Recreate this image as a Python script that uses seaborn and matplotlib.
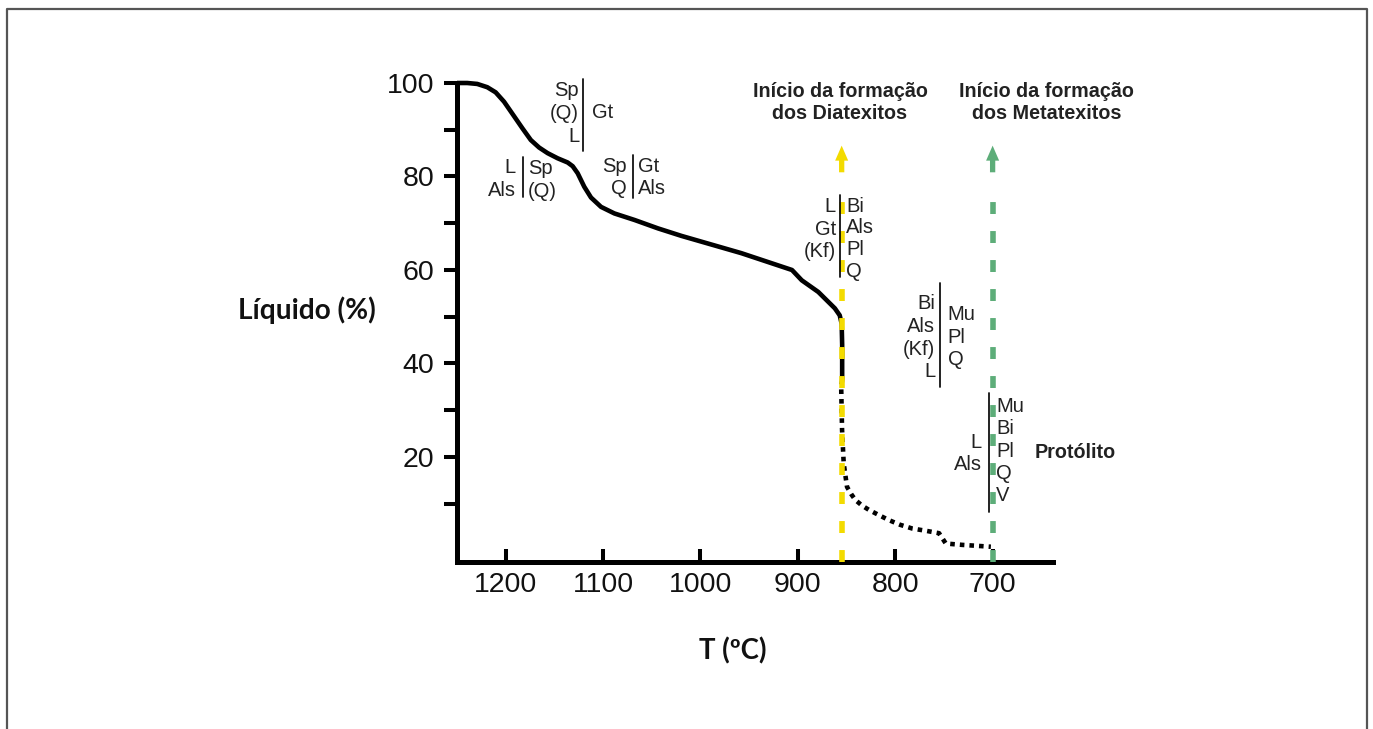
import matplotlib
matplotlib.use("Agg")
import matplotlib.pyplot as plt
import seaborn as sns
import numpy as np
import pandas as pd
from matplotlib.lines import Line2D

# ---------------- data ----------------
# solid part of the melting curve (T in ºC, liquid %)
T_solid = [1250, 1239.5, 1229.2, 1218.9, 1210.3, 1201.7, 1191.4, 1182.8, 1174.2,
           1165.7, 1157.0, 1146.7, 1136.4, 1131.2, 1126.1, 1119.3, 1112.4, 1102.1,
           1088.4, 1067.7, 1043.6, 1019.6, 958, 906, 896, 879, 862, 857, 855,
           854.5, 854.5]
L_solid = [100, 100, 99.8, 99.1, 98.0, 96.0, 92.9, 90.3, 87.8,
           86.2, 85.0, 83.9, 83.0, 82.2, 80.7, 77.8, 75.5, 73.5,
           72.1, 70.7, 68.9, 67.3, 63.6, 60.0, 57.8, 55.3, 51.8, 50.3, 48.5,
           44.0, 36.5]
# dotted (extrapolated) part
T_dot = [854.5, 855.5, 854.6, 852.9, 849.5, 845, 840.9, 834, 827.1, 817, 806.5,
         795, 782.5, 768, 755, 748.1, 740, 731, 716, 701.8]
L_dot = [36.5, 35.0, 25.8, 18.6, 13.6, 12.0, 10.8, 9.6, 8.7, 7.6, 6.5,
         5.5, 4.7, 4.2, 3.7, 1.5, 1.35, 1.2, 1.0, 0.8]

onset_diatexite_T = 855
onset_metatexite_T = 700
onset_line_top = 76.7
arrow_from, arrow_to = 80.9, 86.6

x_ticks = [1200, 1100, 1000, 900, 800, 700]
y_major = [20, 40, 60, 80, 100]
y_minor = [10, 30, 50, 70, 90]

YELLOW = "#F3DB00"
GREEN = "#5DAD79"

# ---------------- figure ----------------
sns.set_theme(style="white")
plt.rcParams["font.family"] = ["Liberation Sans", "DejaVu Sans"]

W, H = 1373, 729
fig = plt.figure(figsize=(W / 100, H / 100), dpi=100)
fig.patch.set_facecolor("white")
ax = fig.add_axes([457 / W, 1 - 562 / H, (1053 - 457) / W, (562 - 83) / H])
ax.set_facecolor("white")

df_solid = pd.DataFrame({"T": T_solid, "L": L_solid})
df_dot = pd.DataFrame({"T": T_dot, "L": L_dot})

sns.lineplot(data=df_solid, x="T", y="L", sort=False, estimator=None, ax=ax,
             color="black", lw=3.3, zorder=3, clip_on=False,
             solid_capstyle="butt", solid_joinstyle="round")
sns.lineplot(data=df_dot, x="T", y="L", sort=False, estimator=None, ax=ax,
             color="black", lw=3.3, zorder=3, clip_on=False,
             linestyle=(0, (1, 1.1)), dash_capstyle="butt")

ax.set_xlim(1250, 638)
ax.set_ylim(-2.46, 100)

# onset dashed lines + arrows
for xv, col in [(onset_diatexite_T, YELLOW), (onset_metatexite_T, GREEN)]:
    ax.plot([xv, xv], [ax.get_ylim()[0], onset_line_top], color=col, lw=4,
            linestyle=(0, (2.15, 3.07)), dash_capstyle="butt", zorder=4, clip_on=False)
    ax.annotate("", xy=(xv, arrow_to), xytext=(xv, arrow_from),
                arrowprops=dict(arrowstyle="simple,head_length=1.08,head_width=0.94,tail_width=0.38",
                                color=col, shrinkA=0, shrinkB=0, mutation_scale=10,
                                lw=0),
                annotation_clip=False, zorder=4)

# axes styling
for s in ["top", "right"]:
    ax.spines[s].set_visible(False)
for s in ["left", "bottom"]:
    ax.spines[s].set_color("black")
    ax.spines[s].set_linewidth(3.6)
    ax.spines[s].set_capstyle("projecting")

ax.set_xticks(x_ticks)
ax.set_xticklabels([str(v) for v in x_ticks])
ax.set_yticks(y_major)
ax.set_yticklabels([str(v) for v in y_major])
ax.set_yticks(y_minor, minor=True)
ax.tick_params(axis="x", which="major", direction="in", length=9.5, width=2.9,
               color="black", labelsize=20.5, pad=7, bottom=True)
ax.tick_params(axis="y", which="both", direction="out", length=9.5, width=2.9,
               color="black", labelsize=20.5, pad=7, left=True)
for lab in ax.get_xticklabels() + ax.get_yticklabels():
    lab.set_color("#111111")
ax.set_xlabel("")
ax.set_ylabel("")

# axis titles (figure pixel positions)
def fx(x):
    return x / W

def fy(y):
    return 1 - y / H

fig.text(fx(307), fy(310), "Líquido (%)", family=["Lato", "DejaVu Sans"], weight="bold",
         fontsize=20.2, ha="center", va="center", color="#111111")
fig.text(fx(733), fy(651), "T (ºC)", family=["Lato", "DejaVu Sans"], weight="bold",
         fontsize=19.8, ha="center", va="center", color="#111111")

# mineral assemblage blocks
FS = 14.5
TXT = "#222222"

def block(sep_x, sep_y0, sep_y1, left, l_right, l_y0, l_dy, right, r_left, r_y0, r_dy):
    fig.add_artist(Line2D([fx(sep_x), fx(sep_x)], [fy(sep_y0), fy(sep_y1)],
                          transform=fig.transFigure, color="#111111", lw=1.3, zorder=6))
    for i, t in enumerate(left):
        fig.text(fx(l_right), fy(l_y0 + i * l_dy), t, ha="right", va="center",
                 fontsize=FS, color=TXT, zorder=7)
    for i, t in enumerate(right):
        fig.text(fx(r_left), fy(r_y0 + i * r_dy), t, ha="left", va="center",
                 fontsize=FS, color=TXT, zorder=7)

block(583, 79, 151, ["Sp", "(Q)", "L"], 579, 90.7, 22.7, ["Gt"], 592, 113, 0)
block(522.5, 157, 197, ["L", "Als"], 516, 167.5, 23.3, ["Sp", "(Q)"], 528, 168, 23.5)
block(632.7, 155, 198, ["Sp", "Q"], 627, 166.7, 22.3, ["Gt", "Als"], 638, 166.7, 22.3)
block(839.5, 195, 277, ["L", "Gt", "(Kf)"], 836, 206.5, 22.6,
      ["Bi", "Als", "Pl", "Q"], 846, 206, 21.9)
block(940, 283, 387, ["Bi", "Als", "(Kf)", "L"], 935, 304, 22.6,
      ["Mu", "Pl", "Q"], 947.7, 315, 22.2)
block(989, 393, 512, ["L", "Als"], 981.7, 442.7, 21.6,
      ["Mu", "Bi", "Pl", "Q", "V"], 996, 406.7, 22.3)

fig.text(fx(1035), fy(452.7), "Protólito", ha="left", va="center", fontsize=14.2,
         weight="bold", color=TXT)

for cx, l2 in [(840, "dos Diatexitos"), (1046.7, "dos Metatexitos")]:
    fig.text(fx(cx), fy(91.7), "Início da formação", ha="center", va="center",
             fontsize=14.2, weight="bold", color=TXT)
    fig.text(fx(cx), fy(113.3), l2, ha="center", va="center",
             fontsize=14.2, weight="bold", color=TXT)

# outer frame (open at bottom)
fig.add_artist(Line2D([fx(7), fx(7), fx(1367), fx(1367)], [0, fy(9), fy(9), 0],
                      transform=fig.transFigure, color="#555555", lw=1.6))

fig.savefig("out.png", dpi=100, facecolor="white")
